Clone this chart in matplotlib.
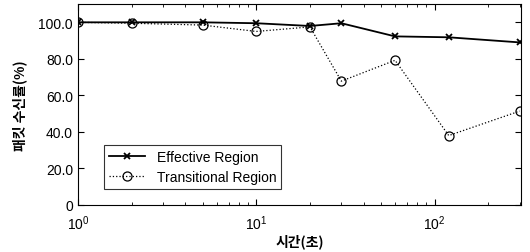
import numpy as np
import matplotlib.pyplot as plt
from matplotlib.ticker import FixedLocator, FixedFormatter

# time (s) and packet reception rate (%)
t = [1, 2, 5, 10, 20, 30, 60, 120, 300]
effective = [100, 100, 100, 99.5, 98, 99.5, 92.3, 91.8, 89]
transitional = [100, 99.5, 98.5, 95, 97.5, 67.8, 79.2, 38, 51.4]

y_ticks = [0, 20, 40, 60, 80, 100]
y_labels = ['0', '20.0', '40.0', '60.0', '80.0', '100.0']

plt.rcParams['font.family'] = ['Liberation Sans', 'Noto Sans CJK KR']

fig = plt.figure(figsize=(5.3, 2.53), dpi=100)
ax = fig.add_axes([0.147, 0.186, 0.836, 0.794])

ax.plot(t, effective, '-', color='black', lw=1.3, marker='x', ms=5, mew=1.3,
        label='Effective Region')
ax.plot(t, transitional, ':', color='black', lw=0.9, marker='o', ms=6.5,
        mfc='none', mew=0.9, label='Transitional Region')

ax.set_xscale('log')
ax.set_xlim(1, 305)
ax.set_ylim(0, 110)
ax.yaxis.set_major_locator(FixedLocator(y_ticks))
ax.yaxis.set_major_formatter(FixedFormatter(y_labels))

ax.tick_params(which='both', direction='in', top=True, right=True,
               labelsize=10, colors='black')
ax.tick_params(which='major', length=4, width=0.8)
ax.tick_params(which='minor', length=2, width=0.6)
ax.tick_params(axis='x', pad=6)
for sp in ax.spines.values():
    sp.set_linewidth(0.8)

ax.set_xlabel('시간(초)', family=['Noto Sans CJK KR'], fontweight='bold',
              fontsize=10, labelpad=1)
ax.set_ylabel('패킷 수신률(%)', family=['Noto Sans CJK KR'], fontweight='bold',
              fontsize=10, labelpad=8)

leg = ax.legend(loc='lower left', bbox_to_anchor=(0.06, 0.08), fontsize=10,
                frameon=True, fancybox=False, edgecolor='black',
                handlelength=2.6, borderpad=0.35, labelspacing=0.45,
                borderaxespad=0)
leg.get_frame().set_linewidth(0.8)

fig.savefig('out.png', dpi=100)
